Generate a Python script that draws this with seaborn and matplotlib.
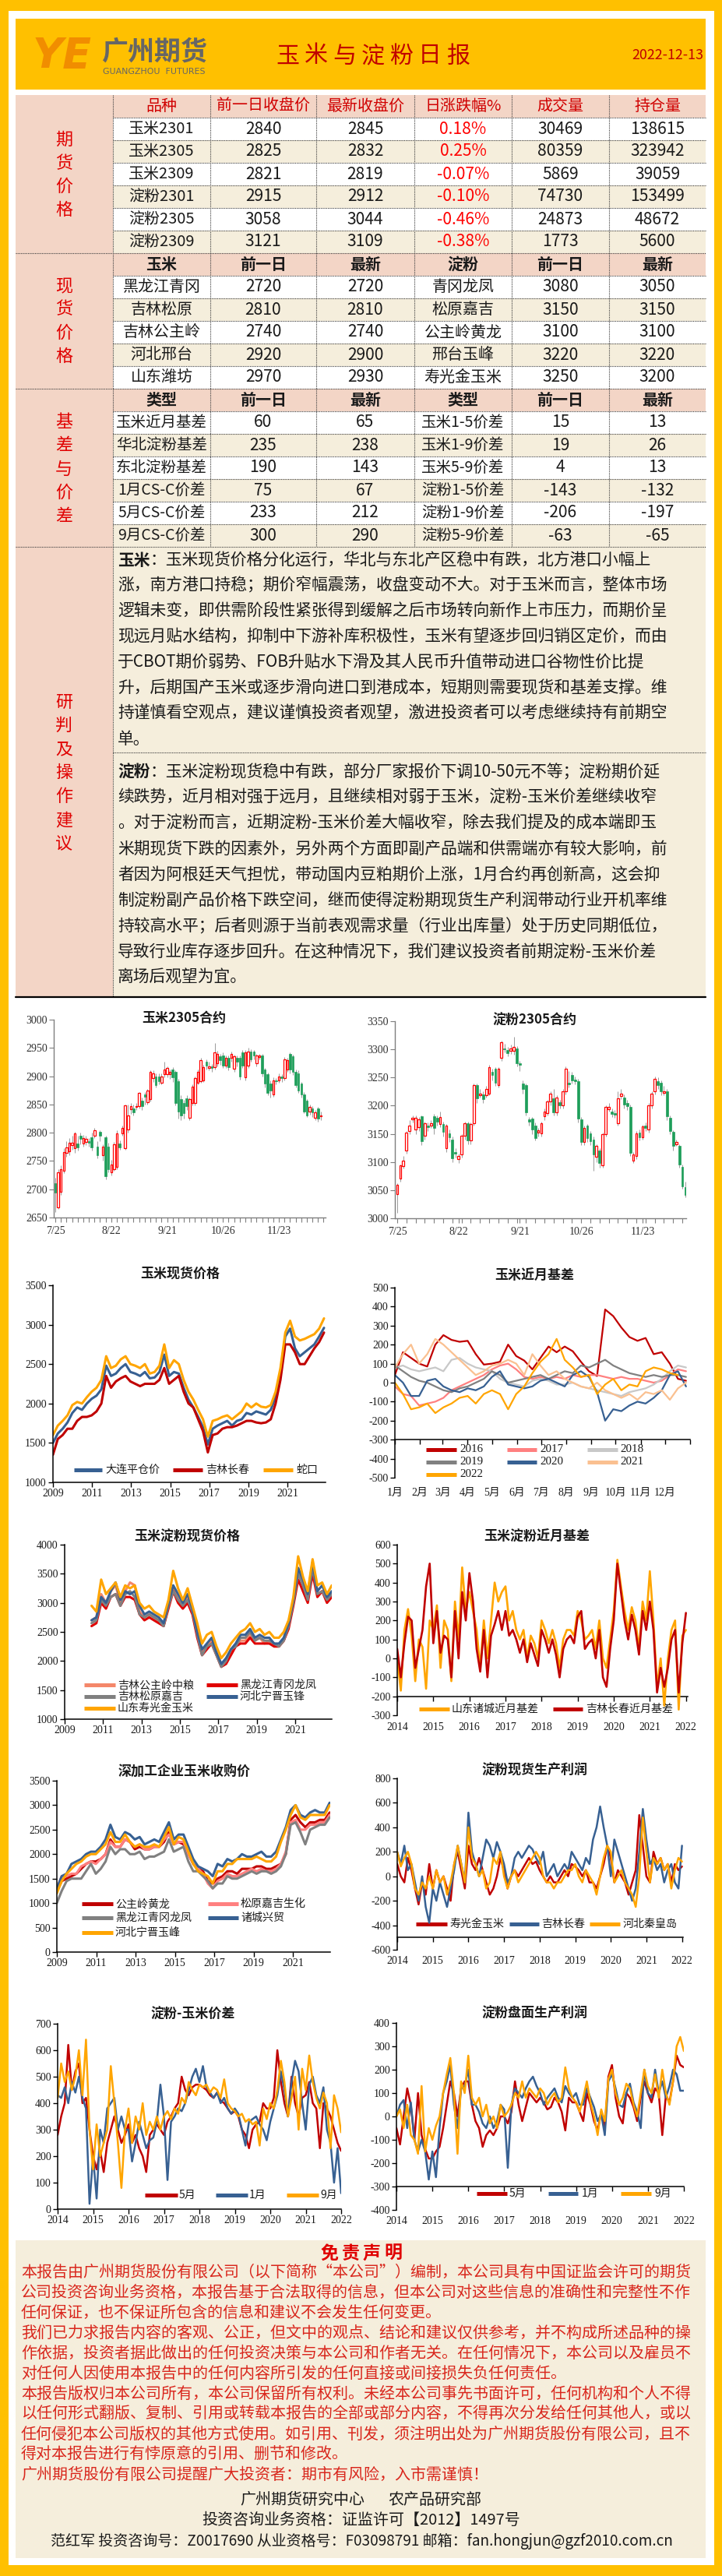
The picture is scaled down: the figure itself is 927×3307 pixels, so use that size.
import numpy as np
import matplotlib
matplotlib.use("Agg")
import matplotlib.pyplot as plt
import seaborn as sns
from matplotlib.patches import Rectangle

# ===================== DATA =====================
report_title = "玉米与淀粉日报"
report_date = "2022-12-13"
fut_names = ["玉米2301", "玉米2305", "玉米2309", "淀粉2301", "淀粉2305", "淀粉2309"]
fut_prev = [2840, 2825, 2821, 2915, 3058, 3121]
fut_last = [2845, 2832, 2819, 2912, 3044, 3109]
fut_chg = ["0.18%", "0.25%", "-0.07%", "-0.10%", "-0.46%", "-0.38%"]
fut_vol = [30469, 80359, 5869, 74730, 24873, 1773]
fut_oi = [138615, 323942, 39059, 153499, 48672, 5600]

spot_corn = ["黑龙江青冈", "吉林松原", "吉林公主岭", "河北邢台", "山东潍坊"]
spot_corn_prev = [2720, 2810, 2740, 2920, 2970]
spot_corn_last = [2720, 2810, 2740, 2900, 2930]
spot_starch = ["青冈龙凤", "松原嘉吉", "公主岭黄龙", "邢台玉峰", "寿光金玉米"]
spot_starch_prev = [3080, 3150, 3100, 3220, 3250]
spot_starch_last = [3050, 3150, 3100, 3220, 3200]

basis_l = ["玉米近月基差", "华北淀粉基差", "东北淀粉基差", "1月CS-C价差", "5月CS-C价差", "9月CS-C价差"]
basis_l_prev = [60, 235, 190, 75, 233, 300]
basis_l_last = [65, 238, 143, 67, 212, 290]
basis_r = ["玉米1-5价差", "玉米1-9价差", "玉米5-9价差", "淀粉1-5价差", "淀粉1-9价差", "淀粉5-9价差"]
basis_r_prev = [15, 19, 4, -143, -206, -63]
basis_r_last = [13, 26, 13, -132, -197, -65]

# candles: corn 2305
c1_open = [2711,2668,2696,2733,2765,2767,2778,2772,2781,2794,
           2781,2783,2785,2792,2795,2776,2801,2760,2792,2776,
           2730,2735,2740,2781,2799,2772,2806,2841,2843,2845,
           2847,2857,2868,2854,2859,2896,2900,2900,2889,2903,
           2903,2903,2912,2907,2891,2859,2852,2861,2827,2852,
           2852,2889,2891,2893,2926,2915,2917,2916,2923,2935,
           2937,2919,2932,2932,2913,2932,2932,2942,2898,2919,
           2944,2943,2923,2934,2936,2912,2903,2887,2868,2893,
           2893,2899,2897,2912,2939,2935,2907,2905,2887,2868,
           2857,2838,2843,2827,2843,2829]
c1_close = [2694,2730,2735,2766,2774,2782,2782,2799,2774,2789,
            2790,2789,2782,2774,2804,2760,2795,2776,2723,2735,
            2744,2779,2799,2774,2808,2848,2831,2847,2836,2847,
            2870,2847,2864,2875,2907,2905,2884,2891,2900,2912,
            2914,2908,2898,2852,2838,2831,2834,2847,2859,2882,
            2896,2907,2928,2916,2919,2917,2915,2942,2939,2928,
            2919,2932,2916,2939,2935,2926,2900,2919,2942,2944,
            2930,2937,2937,2936,2905,2887,2870,2875,2893,2891,
            2900,2897,2930,2928,2912,2907,2884,2875,2868,2838,
            2831,2845,2836,2836,2825,2831]
c1_high = [2720,2735,2742,2772,2785,2790,2795,2802,2795,2800,
           2796,2795,2790,2800,2808,2785,2805,2780,2795,2782,
           2752,2783,2805,2786,2812,2850,2850,2852,2850,2852,
           2872,2862,2872,2878,2910,2910,2905,2905,2905,2925,
           2918,2912,2916,2910,2895,2866,2858,2866,2862,2886,
           2900,2912,2932,2920,2930,2925,2922,2958,2945,2940,
           2942,2936,2936,2944,2938,2936,2936,2946,2946,2950,
           2948,2946,2940,2940,2940,2915,2906,2892,2898,2897,
           2905,2903,2934,2932,2942,2938,2912,2910,2890,2872,
           2860,2850,2847,2840,2846,2838]
c1_low = [2660,2665,2690,2728,2758,2760,2770,2765,2768,2780,
          2776,2778,2775,2768,2790,2755,2785,2750,2718,2730,
          2724,2732,2735,2770,2795,2770,2800,2833,2830,2840,
          2843,2840,2850,2850,2855,2890,2880,2886,2885,2898,
          2898,2895,2890,2848,2825,2822,2825,2840,2822,2848,
          2848,2885,2888,2890,2912,2910,2908,2912,2918,2920,
          2915,2914,2910,2926,2908,2918,2894,2915,2893,2915,
          2925,2930,2918,2930,2900,2880,2866,2862,2864,2885,
          2888,2890,2893,2908,2905,2902,2880,2870,2862,2834,
          2828,2832,2828,2822,2820,2822]

# candles: starch 2305
c2_open = [3043,3070,3093,3120,3155,3176,3158,3162,3181,3146,
           3165,3165,3181,3178,3167,3167,3124,3151,3140,3117,
           3105,3113,3146,3169,3138,3169,3237,3219,3220,3219,
           3222,3260,3266,3236,3285,3302,3299,3297,3297,3302,
           3275,3240,3236,3176,3177,3165,3152,3151,3181,3187,
           3207,3213,3188,3206,3200,3226,3241,3255,3246,3244,
           3176,3135,3165,3151,3140,3109,3121,3094,3150,3194,
           3190,3187,3169,3217,3215,3205,3198,3103,3111,3152,
           3144,3165,3158,3200,3225,3244,3241,3223,3225,3178,
           3153,3132,3129,3091,3056]
c2_close = [3059,3094,3103,3152,3165,3178,3178,3176,3137,3169,
            3162,3169,3160,3171,3180,3153,3165,3144,3107,3115,
            3110,3146,3169,3138,3168,3237,3213,3222,3211,3229,
            3268,3255,3241,3266,3312,3300,3293,3302,3304,3275,
            3272,3229,3188,3172,3158,3142,3156,3169,3190,3207,
            3222,3188,3214,3200,3226,3265,3238,3245,3244,3177,
            3135,3161,3142,3137,3114,3129,3098,3149,3198,3198,
            3185,3184,3213,3222,3202,3199,3116,3114,3151,3144,
            3163,3160,3200,3221,3248,3236,3225,3225,3181,3155,
            3128,3136,3096,3057,3042]
c2_high = [3062,3096,3110,3155,3175,3182,3182,3180,3183,3172,
           3170,3175,3185,3182,3190,3172,3168,3158,3145,3125,
           3115,3150,3172,3172,3170,3240,3240,3230,3225,3235,
           3272,3265,3268,3268,3316,3310,3305,3308,3322,3306,
           3280,3245,3240,3180,3180,3170,3160,3172,3195,3210,
           3225,3230,3218,3210,3230,3270,3262,3260,3252,3248,
           3180,3165,3168,3155,3145,3132,3125,3152,3200,3205,
           3195,3192,3225,3230,3220,3210,3202,3118,3155,3158,
           3166,3170,3205,3225,3252,3250,3245,3235,3230,3182,
           3157,3140,3132,3095,3065]
c2_low = [3010,3065,3088,3115,3150,3170,3150,3155,3130,3140,
          3155,3160,3150,3165,3162,3145,3118,3135,3100,3108,
          3098,3108,3140,3132,3132,3165,3205,3215,3205,3215,
          3218,3245,3235,3232,3280,3295,3288,3292,3290,3270,
          3262,3222,3182,3165,3150,3138,3145,3145,3175,3182,
          3200,3182,3183,3195,3195,3220,3232,3240,3238,3170,
          3130,3130,3135,3130,3085,3100,3090,3090,3145,3190,
          3180,3178,3165,3212,3195,3192,3110,3098,3105,3138,
          3140,3155,3152,3195,3220,3230,3218,3218,3175,3150,
          3120,3128,3090,3052,3038]
candle_labels = ["7/25", "8/22", "9/21", "10/26", "11/23"]

# corn spot prices (quarterly, 2009 - 2022.9)
dl_pingcang = [1500,1620,1680,1760,1880,1950,1920,2000,2060,2100,
               2180,2480,2350,2380,2450,2500,2400,2380,2350,2400,
               2320,2330,2400,2620,2350,2400,2380,2200,2050,1950,
               1830,1700,1480,1680,1720,1750,1780,1720,1780,1800,
               1880,1860,1900,1880,1860,1920,2080,2400,2850,2950,
               2700,2600,2650,2700,2750,2850,2960]
jl_changchun = [1350,1550,1600,1680,1680,1780,1830,1830,1850,1900,
                2000,2350,2200,2280,2320,2350,2280,2250,2220,2250,
                2250,2250,2300,2450,2250,2300,2350,2150,2000,1950,
                1800,1650,1380,1600,1620,1680,1700,1700,1720,1750,
                1780,1780,1760,1750,1760,1800,2000,2300,2750,2750,
                2650,2500,2500,2600,2700,2780,2900]
shekou = [1600,1720,1780,1850,1980,2020,2000,2080,2150,2200,
          2300,2600,2450,2480,2560,2600,2500,2480,2450,2500,
          2380,2400,2480,2750,2450,2550,2500,2300,2150,2050,
          1920,1800,1580,1780,1800,1830,1850,1800,1850,1900,
          2000,1950,2000,1960,1950,1980,2150,2450,2900,3050,
          2850,2800,2820,2850,2880,2950,3080]

# corn nearby basis by year (every 10 days)
basis_years = ["2016", "2017", "2018", "2019", "2020", "2021", "2022"]
basis_2016 = [40,160,130,100,85,200,250,225,215,220,150,95,100,110,200,140,116,70,130,190,
              160,190,165,110,60,35,385,350,290,240,220,235,150,160,100,20,10]
basis_2017 = [-20,-60,-70,-120,-110,-100,-80,-40,-20,0,20,40,70,90,100,70,30,20,30,20,
              30,20,40,30,40,40,30,20,30,20,20,10,0,10,40,70,60]
basis_2018 = [80,90,70,60,70,80,60,120,130,100,80,70,60,20,0,-10,-20,10,20,10,
              -10,-10,0,-20,-30,-40,-50,-60,-70,-50,-40,-30,-10,20,60,90,80]
basis_2019 = [90,60,30,10,0,-20,-40,-50,-30,-20,0,20,60,40,0,10,20,30,40,20,
              40,60,50,90,80,100,120,90,70,50,40,30,40,30,40,40,30]
basis_2020 = [40,0,-70,-70,10,20,-20,-40,-50,-30,-40,-20,30,60,-10,-20,-30,-20,10,20,
              0,-20,40,60,30,-50,-200,-140,-150,-120,-100,-110,-80,-40,40,60,-20]
basis_2021 = [80,150,200,100,150,230,200,160,120,80,40,60,90,100,120,100,40,150,90,40,
              60,20,0,-20,-30,0,-40,-60,-80,-60,-90,-50,-60,-40,-90,-30,0]
basis_2022 = [0,-60,-140,-130,-110,-160,-130,-110,-80,-70,-110,-60,-40,-60,-140,-60,-20,50,110,150,
              230,120,80,30,40,-60,-10,20,-40,-10,-20,60,80,70,50,40]
month_labels = ["1月", "2月", "3月", "4月", "5月", "6月", "7月", "8月", "9月", "10月", "11月", "12月"]

# corn starch spot prices (quarterly 2010.4 - 2022.9)
st_gzl = [2700,2750,3150,3000,3200,3300,3000,3200,3350,3300,2850,2750,2800,2750,2700,2600,2950,3250,3100,2950,
          3100,2850,2500,2150,2250,2350,2150,1950,2000,2150,2250,2350,2350,2450,2350,2400,2300,2350,2250,2250,
          2350,2600,3000,3550,3300,3050,3600,3150,3200,3050,3150]
st_hlj = [2600,2650,3000,2900,3100,3150,2950,3100,3100,3050,2800,2700,2750,2700,2650,2600,2900,3200,3000,2900,
          3000,2800,2400,2100,2200,2300,2100,1900,1950,2100,2250,2300,2300,2400,2300,2300,2300,2300,2250,2250,
          2350,2550,2950,3400,3200,3000,3500,3100,3200,3000,3100]
st_sy = [2650,2700,3050,2950,3100,3150,2950,3150,3200,3100,2800,2750,2800,2750,2700,2600,2950,3200,3050,2950,
         3050,2850,2450,2100,2250,2300,2100,1900,2000,2200,2250,2400,2400,2500,2350,2400,2350,2350,2300,2250,
         2350,2600,3000,3500,3300,3050,3600,3150,3200,3050,3150]
st_hb = [2700,2750,3100,3000,3200,3350,3050,3200,3150,3200,2950,2800,2850,2800,2750,2650,3000,3300,3150,3000,
         3150,2900,2500,2200,2300,2400,2150,1950,2050,2200,2300,2450,2450,2550,2400,2450,2400,2400,2300,2300,
         2400,2650,3050,3600,3400,3150,3700,3200,3300,3100,3200]
st_sd = [2950,2850,3400,3150,3250,3350,3100,3300,3250,3300,3000,2900,2950,2850,2800,2750,3050,3550,3250,3050,
         3250,2950,2650,2300,2450,2500,2250,2050,2150,2300,2400,2500,2550,2650,2500,2550,2450,2500,2400,2400,
         2500,2700,3100,3800,3450,3200,3750,3300,3350,3150,3300]

# starch nearby basis (every 0.1 year, 2014-2022)
bs_zc = [0,-170,150,260,120,-120,100,60,-160,200,
         150,280,-50,200,150,-120,300,100,480,250,
         350,250,150,-50,200,0,200,400,300,350,
         380,200,250,150,100,150,0,120,80,0,
         200,150,80,150,80,-50,100,150,150,120,
         250,200,100,120,150,50,200,0,-50,100,
         250,520,380,250,150,270,200,50,300,200,
         460,200,-150,0,-250,0,150,200,-270,120,
         150]
bs_cc = [50,-100,80,220,200,-50,50,150,380,500,
         80,250,30,120,100,-100,250,0,350,200,
         450,300,50,-70,150,-100,120,180,250,150,
         250,120,150,100,30,100,-20,80,20,-40,
         150,100,30,100,20,-100,50,100,120,80,
         220,250,50,80,100,0,150,-100,-150,50,
         200,500,350,200,100,230,150,20,250,150,
         300,150,-180,-50,-150,-50,100,150,-180,80,
         240]

# deep-processing corn purchase prices (quarterly 2009 - 2022.9)
pp_gzl = [1250,1450,1500,1550,1600,1700,1800,1850,1850,1900,2000,2300,2150,2150,2300,2250,2100,2150,2100,2100,
          2150,2150,2250,2450,2200,2250,2200,2000,1800,1700,1650,1450,1400,1500,1550,1650,1650,1600,1700,1700,
          1700,1750,1750,1700,1700,1750,1800,2000,2700,2800,2650,2550,2650,2650,2700,2700,2850]
pp_sy = [1300,1550,1550,1600,1600,1750,1800,1850,1800,1900,2000,2250,2150,2150,2300,2250,2150,2200,2100,2100,
         2150,2150,2300,2400,2200,2250,2250,2000,1800,1700,1600,1400,1300,1450,1500,1600,1550,1550,1600,1650,
         1700,1650,1700,1650,1650,1700,1800,2050,2650,2700,2500,2500,2600,2600,2650,2650,2800]
pp_hlj = [1000,1250,1450,1500,1500,1500,1650,1800,1600,1700,1850,2150,2000,2100,2100,2000,2000,2050,1900,1950,
          1950,2000,2050,2300,2050,2100,2150,1850,1650,1650,1550,1450,1300,1400,1400,1550,1500,1500,1550,1600,
          1650,1600,1650,1650,1600,1650,1750,2000,2600,2650,2450,2200,2500,2550,2600,2600,2750]
pp_zc = [1300,1550,1600,1800,1850,1900,2000,2050,2050,2150,2300,2600,2350,2300,2450,2400,2300,2350,2200,2250,
         2300,2250,2450,2650,2300,2400,2400,2150,1900,1750,1700,1650,1550,1800,1750,1900,1850,1900,2000,1950,
         1950,2000,2050,1950,1950,2050,2300,2550,2900,3000,2800,2750,2850,2900,2850,2850,3050]
pp_hb = [1200,1450,1600,1700,1800,1850,1950,2000,2000,2100,2200,2450,2250,2250,2400,2250,2150,2200,2150,2150,
         2200,2150,2350,2550,2200,2350,2300,2050,1800,1650,1600,1550,1400,1650,1650,1800,1800,1900,1900,1900,
         1900,1950,1900,1850,1850,1950,2250,2500,2800,3000,2750,2700,2800,2800,2800,2800,3000]

# starch spot production profit (every 0.1 year)
pf_sg = [100,0,-50,150,50,-100,-230,-50,-150,100,
         -100,50,-50,0,-100,-200,100,200,50,-100,
         250,100,50,150,50,-50,-150,-100,0,150,
         50,-100,0,50,0,50,100,150,100,120,
         50,0,-50,0,-50,-50,0,50,0,100,
         80,50,0,50,-50,-50,-100,0,100,250,
         150,-50,50,0,-50,-150,-50,50,500,250,
         0,-50,200,100,150,50,100,-50,100,50,
         80]
pf_jl = [200,100,250,50,100,-50,-200,0,-250,-380,
         -100,-200,-50,-150,-250,-100,50,250,100,-50,
         520,200,100,0,150,300,250,150,280,200,
         100,-50,0,150,200,150,200,250,220,150,
         100,200,0,50,100,0,50,100,50,200,
         150,100,50,150,100,300,400,570,400,250,
         0,300,200,100,0,-100,-200,-100,200,550,
         300,100,150,50,100,-50,50,100,-50,-100,
         250]
pf_hb = [200,80,150,200,100,-100,-150,-50,-100,0,
         -100,50,-50,0,-150,-50,100,250,100,-50,
         400,150,100,0,50,-100,-50,150,100,200,
         0,-100,0,50,-50,0,50,100,150,200,
         150,0,-50,-50,-100,-50,-50,0,50,50,
         100,0,-50,50,0,-50,-150,0,150,250,
         200,-50,0,50,-50,-100,-150,-250,0,480,
         200,-50,150,100,150,50,100,-100,50,150,
         120]

# starch - corn spread (every 0.1 year)
sp_may = [280,350,400,620,450,520,550,400,420,300,
          200,150,220,140,250,300,350,300,250,280,
          320,250,280,230,200,140,280,300,320,300,
          280,330,350,380,400,500,450,430,460,470,
          470,460,450,430,420,440,410,400,380,360,
          370,350,300,280,230,300,320,330,400,380,
          380,420,600,480,400,350,500,400,350,420,
          430,480,400,380,230,400,380,350,300,250,
          220]
sp_jan = [430,420,460,400,480,440,500,420,380,20,
          200,40,300,250,380,400,420,300,350,300,
          300,180,250,330,280,230,260,270,330,470,
          350,110,330,350,380,370,400,450,500,530,
          480,540,460,440,420,440,400,420,380,360,
          380,360,300,240,330,340,350,320,300,260,
          330,380,430,520,450,350,480,560,520,400,
          300,470,500,430,400,460,300,250,100,230,
          60]
sp_sep = [420,550,480,520,450,500,600,430,640,300,
          150,320,200,250,300,540,400,250,80,300,
          380,250,350,300,400,280,330,300,350,300,
          350,370,340,380,360,420,400,480,450,430,
          470,460,470,440,460,450,420,490,400,380,
          370,350,360,330,340,320,330,240,380,340,
          400,380,450,560,480,350,420,500,300,530,
          450,580,480,420,380,440,400,230,430,380,
          290]

# starch futures production profit (every 0.1 year)
fp_may = [-50,-120,0,120,50,-100,100,-80,-140,-180,
          -180,-150,-130,-50,50,150,100,0,120,150,
          150,50,-20,-50,-130,-80,-60,-80,-50,0,
          0,-30,20,150,50,-20,40,100,80,60,
          80,60,30,40,80,60,20,-60,80,60,
          60,20,-20,100,50,-20,-60,20,-50,170,
          220,80,0,-30,100,80,40,-20,80,150,
          100,60,120,100,-80,90,60,150,260,220,
          210]
fp_jan = [0,50,70,-50,60,-100,-150,-100,-150,-270,
          -150,-260,-50,100,150,220,50,-50,120,130,
          200,50,50,20,-30,-50,0,-50,-20,50,
          30,-220,50,120,100,80,120,150,170,130,
          100,50,80,100,120,80,60,130,100,80,
          100,50,50,120,80,40,-20,10,-80,150,
          180,120,50,40,100,140,60,20,-50,200,
          100,80,200,100,150,80,130,200,180,110,
          110]
fp_sep = [0,30,-50,50,-80,-100,-160,130,-150,-50,
          -100,-40,0,100,180,250,100,-160,150,100,
          260,80,50,80,0,50,-30,0,-50,50,
          0,20,50,100,80,150,80,120,100,80,
          120,100,50,80,100,60,80,210,120,80,
          60,20,80,150,60,0,-80,30,-20,160,
          200,100,50,80,140,120,50,0,100,200,
          130,100,180,80,200,100,50,150,300,340,
          280]

corn_text = [
    "：玉米现货价格分化运行，华北与东北产区稳中有跌，北方港口小幅上",
    "涨，南方港口持稳；期价窄幅震荡，收盘变动不大。对于玉米而言，整体市场",
    "逻辑未变，即供需阶段性紧张得到缓解之后市场转向新作上市压力，而期价呈",
    "现远月贴水结构，抑制中下游补库积极性，玉米有望逐步回归销区定价，而由",
    "于CBOT期价弱势、FOB升贴水下滑及其人民币升值带动进口谷物性价比提",
    "升，后期国产玉米或逐步滑向进口到港成本，短期则需要现货和基差支撑。维",
    "持谨慎看空观点，建议谨慎投资者观望，激进投资者可以考虑继续持有前期空",
    "单。"]
starch_text = [
    "：玉米淀粉现货稳中有跌，部分厂家报价下调10-50元不等；淀粉期价延",
    "续跌势，近月相对强于远月，且继续相对弱于玉米，淀粉-玉米价差继续收窄",
    "。对于淀粉而言，近期淀粉-玉米价差大幅收窄，除去我们提及的成本端即玉",
    "米期现货下跌的因素外，另外两个方面即副产品端和供需端亦有较大影响，前",
    "者因为阿根廷天气担忧，带动国内豆粕期价上涨，1月合约再创新高，这会抑",
    "制淀粉副产品价格下跌空间，继而使得淀粉期现货生产利润带动行业开机率维",
    "持较高水平；后者则源于当前表观需求量（行业出库量）处于历史同期低位，",
    "导致行业库存逐步回升。在这种情况下，我们建议投资者前期淀粉-玉米价差",
    "离场后观望为宜。"]
disclaimer = [
    "本报告由广州期货股份有限公司（以下简称“本公司”）编制，本公司具有中国证监会许可的期货",
    "公司投资咨询业务资格，本报告基于合法取得的信息，但本公司对这些信息的准确性和完整性不作",
    "任何保证，也不保证所包含的信息和建议不会发生任何变更。",
    "我们已力求报告内容的客观、公正，但文中的观点、结论和建议仅供参考，并不构成所述品种的操",
    "作依据，投资者据此做出的任何投资决策与本公司和作者无关。在任何情况下，本公司以及雇员不",
    "对任何人因使用本报告中的任何内容所引发的任何直接或间接损失负任何责任。",
    "本报告版权归本公司所有，本公司保留所有权利。未经本公司事先书面许可，任何机构和个人不得",
    "以任何形式翻版、复制、引用或转载本报告的全部或部分内容，不得再次分发给任何其他人，或以",
    "任何侵犯本公司版权的其他方式使用。如引用、刊发，须注明出处为广州期货股份有限公司，且不",
    "得对本报告进行有悖原意的引用、删节和修改。",
    "广州期货股份有限公司提醒广大投资者：期市有风险，入市需谨慎！"]

# ===================== STYLE =====================
sns.set_theme(style="white")
plt.rcParams["font.family"] = ["Noto Sans CJK SC", "DejaVu Sans"]
plt.rcParams["axes.unicode_minus"] = False

W, H = 927, 3307
PT = 0.72
RED = "#C00000"; BLUE = "#376092"; ORANGE = "#FFA500"; SALMON = "#FF8080"
GRAY = "#808080"; LGRAY = "#C8C8C8"; PEACH = "#FAC090"
PINK = "#F3D5C6"; BEIGE = "#F5EEDC"; TXT = "#1A1A1A"

fig = plt.figure(figsize=(W / 100, H / 100), dpi=100)
fig.patch.set_facecolor("#FFC000")
page = fig.add_axes([0, 0, 1, 1])
page.set_xlim(0, W); page.set_ylim(H, 0); page.axis("off")


def rect(x0, y0, x1, y1, fc, z=1):
    page.add_patch(Rectangle((x0, y0), x1 - x0, y1 - y0, facecolor=fc, edgecolor="none", zorder=z))


def hline(y, x0, x1, **kw):
    page.plot([x0, x1], [y, y], **kw)


def vline(x, y0, y1, **kw):
    page.plot([x, x], [y0, y1], **kw)


def T(x, y, s, px, color=TXT, ha="center", va="center", weight="normal", family=None, z=5, **kw):
    d = dict(fontsize=px * PT, color=color, ha=ha, va=va, fontweight=weight, zorder=z)
    if family:
        d["family"] = family
    d.update(kw)
    page.text(x, y, s, **d)


def spaced(xc, y, s, px, step, **kw):
    n = len(s)
    for i, ch in enumerate(s):
        T(xc + (i - (n - 1) / 2) * step, y, ch, px, **kw)


# page frame
rect(11, 14, 917, 3293, "white", z=0)
rect(20, 24, 906, 115, "#FFC000")
T(80, 72, "YE", 54, color="#F18D00", weight="heavy", family="DejaVu Sans", style="italic")
T(198, 66, "广州期货", 34, color="#666666", weight="bold")
T(198, 92, "GUANGZHOU  FUTURES", 11, color="#666666", family="DejaVu Sans")
spaced(479, 72, report_title, 30, 36.5, color=RED)
T(903, 71, report_date, 18, color=RED, ha="right")

# ---------------- table ----------------
TOP = 122; RH = 29
cols = [145, 270, 406, 532, 657, 782, 906]
cx = [(cols[i] + cols[i + 1]) / 2 for i in range(6)]
rect(20, TOP, 145, 1280, PINK)
rect(145, 702, 906, 1280, BEIGE)


def rowy(r):
    return TOP + RH * r


for r in range(20):
    if r in (0, 7, 13):
        fc = PINK
    else:
        base = 1 if r < 7 else (8 if r < 13 else 14)
        fc = "white" if (r - base) % 2 == 0 else BEIGE
    rect(145, rowy(r), 906, rowy(r + 1), fc)

hdr1 = ["品种", "前一日收盘价", "最新收盘价", "日涨跌幅%", "成交量", "持仓量"]
for i, s in enumerate(hdr1):
    T(cx[i], rowy(0) + RH / 2, s, 20, color="#D00000")
for k in range(6):
    y = rowy(1 + k) + RH / 2
    vals = [fut_names[k], fut_prev[k], fut_last[k], fut_chg[k], fut_vol[k], fut_oi[k]]
    for i, v in enumerate(vals):
        T(cx[i], y, str(v), 21 if i else 20, color=("#FF0000" if i == 3 else TXT))

for i, s in enumerate(["玉米", "前一日", "最新", "淀粉", "前一日", "最新"]):
    T(cx[i], rowy(7) + RH / 2, s, 20, weight="bold")
for k in range(5):
    y = rowy(8 + k) + RH / 2
    vals = [spot_corn[k], spot_corn_prev[k], spot_corn_last[k], spot_starch[k], spot_starch_prev[k], spot_starch_last[k]]
    for i, v in enumerate(vals):
        T(cx[i], y, str(v), 20 if i in (0, 3) else 21)

for i, s in enumerate(["类型", "前一日", "最新", "类型", "前一日", "最新"]):
    T(cx[i], rowy(13) + RH / 2, s, 20, weight="bold")
for k in range(6):
    y = rowy(14 + k) + RH / 2
    vals = [basis_l[k], basis_l_prev[k], basis_l_last[k], basis_r[k], basis_r_prev[k], basis_r_last[k]]
    for i, v in enumerate(vals):
        T(cx[i], y, str(v), 19.5 if i in (0, 3) else 21)

dot = dict(color="#404040", lw=0.8, ls=(0, (1, 1)), zorder=3)
for r in range(1, 20):
    if r in (7, 13):
        hline(rowy(r), 20, 906, **dot)
    else:
        hline(rowy(r), 145, 906, **dot)
hline(702, 20, 906, **dot)
for x in cols[1:-1]:
    vline(x, TOP, 702, **dot)
vline(145, TOP, 1280, **dot)
hline(966, 145, 906, **dot)
hline(1280, 20, 906, color="black", lw=1.6, zorder=3)

# vertical section labels
for chars, ys in [("期货价格", [180, 210, 240, 270]),
                  ("现货价格", [368, 397, 428, 458]),
                  ("基差与价差", [542, 572, 603, 633, 663]),
                  ("研判及操作建议", [902, 932, 962, 992, 1023, 1053, 1083])]:
    for ch, yy in zip(chars, ys):
        T(82, yy, ch, 22, color="#E00000")

# research text
FS = 20.8
T(151, 719, "玉米", FS, ha="left", weight="bold")
for i, line in enumerate(corn_text):
    x = 151 + (2 * FS if i == 0 else 0)
    T(x, 719 + 32.8 * i, line, FS, ha="left")
T(151, 991, "淀粉", FS, ha="left", weight="bold")
for i, line in enumerate(starch_text):
    x = 151 + (2 * FS if i == 0 else 0)
    T(x, 991 + 33 * i, line, FS, ha="left")


# ===================== CHARTS =====================
def mkax(l, t, r, b):
    ax = fig.add_axes([l / W, 1 - b / H, (r - l) / W, (b - t) / H])
    ax.set_facecolor("none")
    return ax


def style_axes(ax, xlim, ylim, yticks, xticks, xlabels, xfam="Liberation Serif",
               axis_at=None, sec_ticks=None, xpad=2, spc="black", lw=1.1, lblc=TXT):
    ax.set_xlim(*xlim); ax.set_ylim(*ylim)
    ax.grid(False)
    ax.set_xlabel(""); ax.set_ylabel("")
    for s in ("top", "right"):
        ax.spines[s].set_visible(False)
    ax.spines["left"].set_color(spc); ax.spines["left"].set_linewidth(lw)
    ax.set_yticks(yticks); ax.set_yticklabels([str(v) for v in yticks])
    ax.tick_params(axis="y", left=True, direction="out", length=4, width=1, color=spc,
                   labelsize=10, pad=2, labelcolor=lblc, labelfontfamily="Liberation Serif")
    ax.set_xticks(xticks); ax.set_xticklabels(xlabels)
    if axis_at is None:
        ax.spines["bottom"].set_color(spc); ax.spines["bottom"].set_linewidth(lw)
        ax.tick_params(axis="x", bottom=True, direction="out", length=4, width=1, color=spc,
                       labelsize=10, pad=xpad, labelcolor=lblc, labelfontfamily=xfam)
    else:
        ax.spines["bottom"].set_visible(False)
        ax.tick_params(axis="x", bottom=True, length=0, labelsize=10, pad=xpad,
                       labelcolor=lblc, labelfontfamily=xfam)
        frac = (axis_at - ylim[0]) / (ylim[1] - ylim[0])
        sec = ax.secondary_xaxis(frac)
        sec.set_ticks(sec_ticks if sec_ticks is not None else xticks)
        sec.tick_params(axis="x", bottom=True, direction="out", length=4, width=1, color=spc,
                        labelbottom=False, labeltop=False)
        sec.spines["bottom"].set_color(spc); sec.spines["bottom"].set_linewidth(lw)
    return ax


def legend_item(x0, x1, tx, y, label, color, px=14, fam=None):
    page.plot([x0, x1], [y, y], color=color, lw=5 * PT, solid_capstyle="butt", zorder=6)
    T(tx, y, label, px, ha="left", family=fam)


def candles(ax, o, c, h, l, width=0.7):
    n = min(len(o), len(c), len(h), len(l))
    o = np.array(o[:n], float); c = np.array(c[:n], float)
    h = np.array(h[:n], float); l = np.array(l[:n], float)
    x = np.arange(n)
    up = c >= o
    ax.vlines(x, l, h, color="#9A9A9A", lw=0.7, zorder=1)
    body = np.maximum(np.abs(c - o), 0.8)
    bot = np.minimum(o, c)
    ax.bar(x[up], body[up], bottom=bot[up], width=width, facecolor="white",
           edgecolor="#FF0000", linewidth=0.9, zorder=2)
    ax.bar(x[~up], body[~up], bottom=bot[~up], width=width, facecolor="#1E9E5A",
           edgecolor="#1E9E5A", linewidth=0.5, zorder=2)
    return n


def candle_axes(ax, n_minor, xlim, ylim, yticks):
    ax.set_xlim(*xlim); ax.set_ylim(*ylim)
    ax.grid(False)
    for s in ("top", "right"):
        ax.spines[s].set_visible(False)
    for s in ("left", "bottom"):
        ax.spines[s].set_color("#7F7F7F"); ax.spines[s].set_linewidth(1)
    ax.set_yticks(yticks); ax.set_yticklabels([str(v) for v in yticks])
    ax.set_xticks([0, 20, 40, 60, 80]); ax.set_xticklabels(candle_labels)
    ax.set_xticks(np.arange(0, int(xlim[1]) + 1, n_minor), minor=True)
    ax.tick_params(axis="both", which="both", bottom=True, left=True, direction="out",
                   length=4, width=0.8, color="#7F7F7F", labelsize=10, labelcolor="#303030",
                   labelfontfamily="Liberation Serif")
    ax.tick_params(axis="x", pad=4)
    ax.tick_params(axis="y", pad=2)


# chart 1: corn 2305 candles
ax1 = mkax(69, 1309, 418, 1563)
candles(ax1, c1_open, c1_close, c1_high, c1_low)
candle_axes(ax1, 2, (-0.56, 96.7), (2650, 3000), list(range(2650, 3001, 50)))
T(236, 1307, "玉米2305合约", 17, weight="bold")

# chart 2: starch 2305 candles
ax2 = mkax(507, 1311, 881, 1564)
candles(ax2, c2_open, c2_close, c2_high, c2_low)
candle_axes(ax2, 3, (-0.76, 94.25), (3000, 3350), list(range(3000, 3351, 50)))
T(686, 1309, "淀粉2305合约", 17, weight="bold")

year_ticks_09 = [2009, 2011, 2013, 2015, 2017, 2019, 2021]
year_ticks_14 = list(range(2014, 2023))

# chart 3: corn spot prices
ax3 = mkax(68, 1650, 418, 1903)
t3 = np.linspace(2009.0, 2022.87, len(shekou))
for ser, colr in [(dl_pingcang, BLUE), (jl_changchun, RED), (shekou, ORANGE)]:
    sns.lineplot(x=t3[:len(ser)], y=ser, ax=ax3, color=colr, linewidth=2.2, legend=False)
style_axes(ax3, (2009, 2022.95), (1000, 3500), list(range(1000, 3501, 500)),
           year_ticks_09, [str(v) for v in year_ticks_09])
T(231, 1635, "玉米现货价格", 17, weight="bold")
legend_item(95, 131, 135, 1887, "大连平仓价", BLUE)
legend_item(222, 260, 264, 1887, "吉林长春", RED)
legend_item(338, 376, 380, 1887, "蛇口", ORANGE)

# chart 4: corn nearby basis by year
ax4 = mkax(507, 1653, 886, 1897)
basis_series = [basis_2016, basis_2017, basis_2018, basis_2019, basis_2020, basis_2021, basis_2022]
basis_colors = [RED, SALMON, LGRAY, GRAY, BLUE, PEACH, ORANGE]
for ser, colr in zip(basis_series, basis_colors):
    sns.lineplot(x=10 * np.arange(len(ser)), y=ser, ax=ax4, color=colr, linewidth=1.6, legend=False)
mstarts = [0, 31, 59, 90, 120, 151, 181, 212, 243, 273, 304, 334]
style_axes(ax4, (0, 365), (-500, 500), list(range(-500, 501, 100)), mstarts, month_labels,
           xfam=["Liberation Serif", "Noto Sans CJK SC"], axis_at=-300,
           sec_ticks=mstarts + [365], xpad=9)
T(686, 1637, "玉米近月基差", 17, weight="bold")
leg_cols = [(547, 586, 590), (651, 689, 693), (754, 793, 796)]
leg_rows = [1861, 1877, 1893]
for k, (lab, colr) in enumerate(zip(basis_years, basis_colors)):
    x0, x1, tx = leg_cols[k % 3]
    legend_item(x0, x1, tx, leg_rows[k // 3], lab, colr, px=15, fam="Liberation Serif")

# chart 5: corn starch spot prices
ax5 = mkax(83, 1983, 426, 2207)
t5 = np.linspace(2010.4, 2022.9, len(st_sd))
st_series = [(st_gzl, "#F4876A"), (st_hlj, "#E00000"), (st_sy, GRAY), (st_hb, BLUE), (st_sd, ORANGE)]
for ser, colr in st_series:
    sns.lineplot(x=t5[:len(ser)], y=ser, ax=ax5, color=colr, linewidth=2.2, legend=False)
style_axes(ax5, (2009, 2022.9), (1000, 4000), list(range(1000, 4001, 500)),
           year_ticks_09, [str(v) for v in year_ticks_09])
T(240, 1972, "玉米淀粉现货价格", 17, weight="bold")
st_labels = ["吉林公主岭中粮", "黑龙江青冈龙凤", "吉林松原嘉吉", "河北宁晋玉锋", "山东寿光金玉米"]
for k, (lab, (_, colr)) in enumerate(zip(st_labels, st_series)):
    x0, x1, tx = [(108, 148, 151), (265, 305, 308)][k % 2]
    legend_item(x0, x1, tx, [2163, 2178, 2193][k // 2], lab, colr)

# chart 6: starch nearby basis
ax6 = mkax(510, 1983, 883, 2202)
sns.lineplot(x=2014 + 0.1 * np.arange(len(bs_zc)), y=bs_zc, ax=ax6, color=ORANGE, linewidth=1.9, legend=False)
sns.lineplot(x=2014 + 0.1 * np.arange(len(bs_cc)), y=bs_cc, ax=ax6, color=RED, linewidth=1.9, legend=False)
style_axes(ax6, (2014, 2022.05), (-300, 600), list(range(-300, 601, 100)),
           year_ticks_14, [str(v) for v in year_ticks_14], axis_at=-200, xpad=6.5)
T(689, 1972, "玉米淀粉近月基差", 17, weight="bold")
legend_item(538, 577, 580, 2194, "山东诸城近月基差", ORANGE)
legend_item(710, 748, 752, 2194, "吉林长春近月基差", RED)

# chart 7: deep-processing purchase prices
ax7 = mkax(73, 2286, 424, 2506)
t7 = np.linspace(2009.0, 2022.87, len(pp_zc))
pp_series = [(pp_gzl, RED), (pp_sy, SALMON), (pp_hlj, GRAY), (pp_zc, BLUE), (pp_hb, ORANGE)]
for ser, colr in pp_series:
    sns.lineplot(x=t7[:len(ser)], y=ser, ax=ax7, color=colr, linewidth=2.2, legend=False)
style_axes(ax7, (2009, 2022.9), (0, 3500), list(range(0, 3501, 500)),
           year_ticks_09, [str(v) for v in year_ticks_09], xpad=1.5)
T(237, 2275, "深加工企业玉米收购价", 17, weight="bold")
pp_labels = ["公主岭黄龙", "松原嘉吉生化", "黑龙江青冈龙凤", "诸城兴贸", "河北宁晋玉峰"]
for k, (lab, (_, colr)) in enumerate(zip(pp_labels, pp_series)):
    x0, x1, tx = [(105, 145, 148), (267, 306, 309)][k % 2]
    legend_item(x0, x1, tx, [2444, 2462, 2481][k // 2], lab, colr)

# chart 8: starch spot production profit
ax8 = mkax(510, 2283, 877, 2503)
for ser, colr in [(pf_sg, RED), (pf_jl, BLUE), (pf_hb, ORANGE)]:
    sns.lineplot(x=2014 + 0.1 * np.arange(len(ser)), y=ser, ax=ax8, color=colr, linewidth=1.8, legend=False)
style_axes(ax8, (2014, 2022.03), (-600, 800), list(range(-600, 801, 200)),
           year_ticks_14, [str(v) for v in year_ticks_14], axis_at=-500, xpad=5.8)
T(686, 2272, "淀粉现货生产利润", 17, weight="bold")
legend_item(534, 574, 577, 2470, "寿光金玉米", RED)
legend_item(654, 692, 695, 2470, "吉林长春", BLUE)
legend_item(757, 796, 800, 2470, "河北秦皇岛", ORANGE)

# chart 9: starch - corn spread
ax9 = mkax(74, 2598, 438, 2836)
for ser, colr in [(sp_may, RED), (sp_jan, BLUE), (sp_sep, ORANGE)]:
    sns.lineplot(x=2014 + 0.1 * np.arange(len(ser)), y=ser, ax=ax9, color=colr, linewidth=1.8, legend=False)
style_axes(ax9, (2014, 2022.0), (0, 700), list(range(0, 701, 100)),
           year_ticks_14, [str(v) for v in year_ticks_14])
T(248, 2585, "淀粉-玉米价差", 17, weight="bold")
legend_item(186, 228, 230, 2818, "5月", RED)
legend_item(277, 318, 320, 2818, "1月", BLUE)
legend_item(368, 409, 411, 2818, "9月", ORANGE)

# chart 10: starch futures production profit
ax10 = mkax(509, 2597, 878, 2837)
for ser, colr in [(fp_may, RED), (fp_jan, BLUE), (fp_sep, ORANGE)]:
    sns.lineplot(x=2014 + 0.1 * np.arange(len(ser)), y=ser, ax=ax10, color=colr, linewidth=1.8, legend=False)
style_axes(ax10, (2014, 2022.0), (-400, 400), list(range(-400, 401, 100)),
           year_ticks_14, [str(v) for v in year_ticks_14], axis_at=-300, xpad=5.8)
T(686, 2584, "淀粉盘面生产利润", 17, weight="bold")
legend_item(612, 651, 654, 2816, "5月", RED)
legend_item(704, 742, 747, 2816, "1月", BLUE)
legend_item(797, 836, 840, 2816, "9月", ORANGE)

# ===================== DISCLAIMER =====================
rect(20, 2876, 906, 3284, BEIGE)
spaced(464, 2893, "免责声明", 23, 27, color="#E00000", weight="bold")
for i, line in enumerate(disclaimer):
    T(27, 2917 + 26 * i, line, 20, color="#D9261C", ha="left")
T(388, 3209, "广州期货研究中心", 20)
T(558, 3209, "农产品研究部", 20)
T(464, 3235, "投资咨询业务资格：证监许可【2012】1497号", 20)
T(464, 3262, "范红军 投资咨询号：Z0017690 从业资格号：F03098791 邮箱：fan.hongjun@gzf2010.com.cn", 19)

fig.savefig("out.png", dpi=100, facecolor=fig.get_facecolor())
